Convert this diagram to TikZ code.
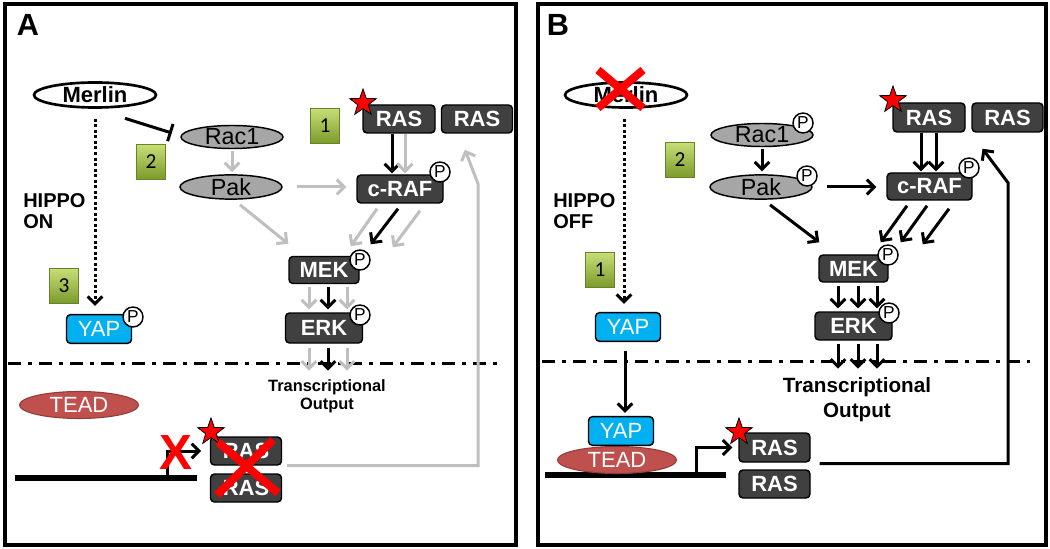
\documentclass[tikz,border=0pt]{standalone}
\usepackage{fontspec}
\setmainfont{Liberation Sans}
\newfontfamily\calib{Carlito}
\usetikzlibrary{arrows.meta,shapes.geometric,calc}
\definecolor{boxgray}{HTML}{404040}
\definecolor{lgray}{HTML}{BFBFBF}
\definecolor{ellgray}{HTML}{A6A6A6}
\definecolor{yapblue}{HTML}{00B0F0}
\definecolor{teadred}{HTML}{C0504D}
\definecolor{gtop}{HTML}{C8DE78}
\definecolor{gbot}{HTML}{7A9A2A}
\tikzset{
  frame/.style={draw=black, line width=3pt},
  lab/.style={font=\bfseries\fontsize{23}{23}\selectfont, inner sep=0pt},
  dbox/.style={rectangle, draw=black, line width=1.1pt, fill=boxgray, rounded corners=3pt, text=white,
    font=\bfseries\fontsize{16.5}{17}\selectfont, inner sep=0pt},
  ell/.style={ellipse, draw=black, line width=1.1pt, fill=ellgray, inner sep=0pt,
    minimum width=76.5pt, minimum height=17.25pt, font=\fontsize{17.5}{18}\selectfont},
  merl/.style={ellipse, draw=black, line width=2pt, fill=white, inner sep=0pt,
    minimum width=91.5pt, minimum height=18.75pt, font=\bfseries\fontsize{16.5}{18}\selectfont},
  pc/.style={circle, draw=black, line width=1.1pt, fill=white, minimum size=15pt, inner sep=0pt,
    font=\fontsize{13}{13}\selectfont},
  gbox/.style={rectangle, draw=gbot!85!black, line width=0.4pt, top color=gtop, bottom color=gbot,
    minimum width=21.75pt, minimum height=26.25pt, inner sep=0pt, font=\calib\fontsize{16}{16}\selectfont},
  yap/.style={rectangle, rounded corners=3pt, draw=black, line width=1.1pt, fill=yapblue, text=white,
    minimum width=48.75pt, minimum height=21.5pt, inner sep=0pt, font=\fontsize{16.5}{17}\selectfont},
  tead/.style={ellipse, draw=teadred!75!black, line width=0.8pt, fill=teadred, text=white,
    minimum width=89.25pt, minimum height=20.25pt, inner sep=0pt, font=\fontsize{16.5}{17}\selectfont},
  redstar/.style={star, star points=5, star point ratio=2.5, minimum size=21pt, inner sep=0pt,
    fill=red, draw=black, line width=0.6pt},
  hippo/.style={anchor=west, align=left, inner sep=0pt, font=\bfseries\fontsize{15}{16}\selectfont},
  blk/.style={draw=black, line width=2.25pt, ->},
  gry/.style={draw=lgray, line width=2.25pt, ->},
  dotarr/.style={draw=black, line width=2.25pt, dash pattern=on 2.25pt off 1.9pt, ->},
  dashdot/.style={draw=black, line width=2.25pt, dash pattern=on 9.75pt off 5.25pt on 3pt off 5.25pt},
  dna/.style={draw=black, line width=4.5pt},
  bigx/.style={draw=red, line width=6pt},
}
\begin{document}
\begin{tikzpicture}[x=0.75pt,y=-0.75pt, >={Straight Barb[length=5.5pt,width=11pt]}]
\useasboundingbox (0,0) rectangle (1050,549);
\fill[white] (0,0) rectangle (1050,549);
% ================= Panel A =================
\draw[frame] (5,4) rectangle (516,545);
\node[lab] (labA) at (28,25) {A};
\draw[dashdot] (8,363) -- (500,363);

\node[merl] (merlinA) at (95,95) {Merlin};
\node[ell] (rac1A) at (232,137) {Rac1};
\node[ell] (pakA) at (231,187) {Pak};
\node[gbox] (g2A) at (151,162) {2};
\node[gbox] (g1A) at (325,126) {1};
\node[gbox] (g3A) at (64,286) {3};
\node[hippo] (hippoA) at (23,211) {HIPPO\\ON};

\node[dbox, minimum width=54pt, minimum height=21pt] (rasA) at (399,119) {RAS};
\node[dbox, minimum width=53.25pt, minimum height=21pt] (ras2A) at (477,119) {RAS};
\node[redstar] (starA) at (363,103) {};
\node[dbox, minimum width=64.5pt, minimum height=21pt] (crafA) at (400,189) {c-RAF};
\node[pc] (pcrafA) at (440,172) {P};
\node[dbox, minimum width=52.5pt, minimum height=20.25pt] (mekA) at (324,270) {MEK};
\node[pc] (pmekA) at (360,260) {P};
\node[dbox, minimum width=57.75pt, minimum height=22.5pt] (erkA) at (324,328) {ERK};
\node[pc] (perkA) at (360,315) {P};
\node[yap] (yapA) at (99,329) {YAP};
\node[pc] (pyapA) at (133,317) {P};
\node[align=center, inner sep=0pt, font=\bfseries\fontsize{12.3}{13.5}\selectfont] (outA) at (327,396) {Transcriptional\\Output};
\node[tead] (teadA) at (79,405) {TEAD};

% connectors A
\draw[line width=2.25pt, -{Bar[width=13.5pt]}] ($(merlinA.south)+(30,9.5)$) -- ($(rac1A.west)+(-8.5,-4)$);
\draw[dotarr] ($(merlinA.south)+(0,10)$) -- ($(merlinA.south |- yapA.north)+(0,-8)$);
\draw[gry, shorten <=1pt, shorten >=1.5pt] (rac1A.south) -- (rac1A.south |- pakA.north);
\draw[gry, shorten <=11pt, shorten >=7.5pt] (pakA.east) -- (pakA.east -| crafA.west);
\draw[gry] ($(pakA.south)+(9,5)$) -- ($(mekA.north west)+(0,-12)$);
\draw[blk] ($(rasA.south)+(-7,0)$) -- ($(rasA.south |- crafA.north)+(-7,-1)$);
\draw[gry] ($(rasA.south)+(6,0)$) -- ($(rasA.south |- crafA.north)+(6,-1)$);
\draw[gry] ($(crafA.south)+(-23,5)$) -- ($(mekA.north east)+(-9,-9.5)$);
\draw[gry] ($(crafA.south)+(20,7)$) -- ($(mekA.north east)+(33,-8.5)$);
\draw[blk] ($(crafA.south)+(-2,5)$) -- ($(mekA.north east)+(11,-11.5)$);
\foreach \dx/\st in {-15/gry,23/gry,4/blk}{
  \draw[\st] ($(mekA.south)+(\dx,3)$) -- ($(erkA.north)+(\dx,-3)$);
  \draw[\st] ($(erkA.south)+(\dx,4)$) -- ($(erkA.south)+(\dx,27)$);
}

% bottom A
\coordinate (dnaA1) at (15,478);
\coordinate (dnaA2) at (197,478);
\coordinate (promA) at (167,478);
\draw[dna] (dnaA1) -- (dnaA2);
\node[dbox, minimum width=53.25pt, minimum height=21pt] (rasb1A) at (246,451) {RAS};
\node[dbox, minimum width=53.25pt, minimum height=21pt] (rasb2A) at (246,488) {RAS};
\node[redstar] (starbA) at (211,432) {};
\draw[blk, shorten >=6.4pt] (promA) |- (rasb1A.west);
\node[text=red, inner sep=0pt, font=\bfseries\fontsize{37}{37}\selectfont] (xA) at (176,453) {X};
\draw[bigx] (218,442) -- (278,493);
\draw[bigx] (273,440) -- (217,495);
\draw[gry] ($(rasb1A.south east)+(5,0)$) -| ($(ras2A.south)+(1,50)$) -- ($(ras2A.south)+(-12,16)$);

% ================= Panel B =================
\draw[frame] (538,4) rectangle (1046,545);
\node[lab] (labB) at (558,25) {B};
\draw[dashdot] (542,361) -- (1030,361);

\node[merl] (merlinB) at (626,95) {Merlin};
\draw[bigx] (598,70) -- (643,108);
\draw[bigx] (643,70) -- (598,108);
\node[ell] (rac1B) at (762,135) {Rac1};
\node[pc] (prac1B) at (803,123) {P};
\node[ell] (pakB) at (761,187) {Pak};
\node[pc] (ppakB) at (807,176) {P};
\node[gbox] (g2B) at (680,160) {2};
\node[gbox] (g1B) at (600,270) {1};
\node[hippo] (hippoB) at (553,211) {HIPPO\\OFF};

\node[dbox, minimum width=54pt, minimum height=21.75pt] (rasB) at (929,117.5) {RAS};
\node[dbox, minimum width=53.25pt, minimum height=21.75pt] (ras2B) at (1007.5,117.5) {RAS};
\node[redstar] (starB) at (893,100) {};
\node[dbox, minimum width=63.75pt, minimum height=20.25pt] (crafB) at (929.5,186.5) {c-RAF};
\node[pc] (pcrafB) at (969,168) {P};
\node[dbox, minimum width=51.75pt, minimum height=20.25pt] (mekB) at (853.5,268.5) {MEK};
\node[pc] (pmekB) at (888,255) {P};
\node[dbox, minimum width=57.75pt, minimum height=21pt] (erkB) at (853.5,326) {ERK};
\node[pc] (perkB) at (889,313) {P};
\node[yap] (yapB) at (628,327) {YAP};
\node[align=center, inner sep=0pt, font=\bfseries\fontsize{15.5}{18.75}\selectfont] (outB) at (857,400) {Transcriptional\\Output};

% connectors B
\draw[dotarr] ($(merlinB.south)+(-2,10)$) -- ($(merlinB.south |- yapB.north)+(-2,-8)$);
\draw[blk, shorten <=1pt, shorten >=2pt] (rac1B.south) -- (rac1B.south |- pakB.north);
\draw[blk, shorten <=11pt, shorten >=7.5pt] (pakB.east) -- (pakB.east -| crafB.west);
\draw[blk] ($(pakB.south)+(9,5)$) -- ($(mekB.north west)+(1,-12)$);
\draw[blk] ($(rasB.south)+(-8,0)$) -- ($(rasB.south |- crafB.north)+(-8,-1)$);
\draw[blk] ($(rasB.south)+(7,0)$) -- ($(rasB.south |- crafB.north)+(7,-1)$);
\draw[blk] ($(crafB.south)+(-22.5,5)$) -- ($(mekB.north east)+(-8,-12)$);
\draw[blk] ($(crafB.south)+(-2.5,5)$) -- ($(mekB.north east)+(12,-12)$);
\draw[blk] ($(crafB.south)+(19.5,8)$) -- ($(mekB.north east)+(34,-10)$);
\foreach \dx in {-15.5,4.5,23.5}{
  \draw[blk] ($(mekB.south)+(\dx,3)$) -- ($(erkB.north)+(\dx,-3)$);
  \draw[blk] ($(erkB.south)+(\dx,3)$) -- ($(erkB.south)+(\dx,28)$);
}

% bottom B
\coordinate (dnaB1) at (545,475);
\coordinate (dnaB2) at (726,475);
\coordinate (promB) at (696,475);
\draw[dna] (dnaB1) -- (dnaB2);
\node[tead] (teadB) at (617,460) {TEAD};
\node[yap] (yapB2) at (621,431) {YAP};
\draw[blk] ($(yapB.south)+(-3,9)$) -- ($(yapB.south |- yapB2.north)+(-3,-3)$);
\node[dbox, minimum width=53.25pt, minimum height=21.75pt] (rasb1B) at (774.5,447.5) {RAS};
\node[dbox, minimum width=53.25pt, minimum height=21pt] (rasb2B) at (774.5,484) {RAS};
\node[redstar] (starbB) at (739,432) {};
\draw[blk, shorten >=4.5pt] (promB) |- (rasb1B.west);
\draw[blk] ($(rasb1B.south east)+(9,1)$) -| ($(ras2B.south)+(0.5,50)$) -- ($(ras2B.south)+(-25,16)$);
\end{tikzpicture}
\end{document}
